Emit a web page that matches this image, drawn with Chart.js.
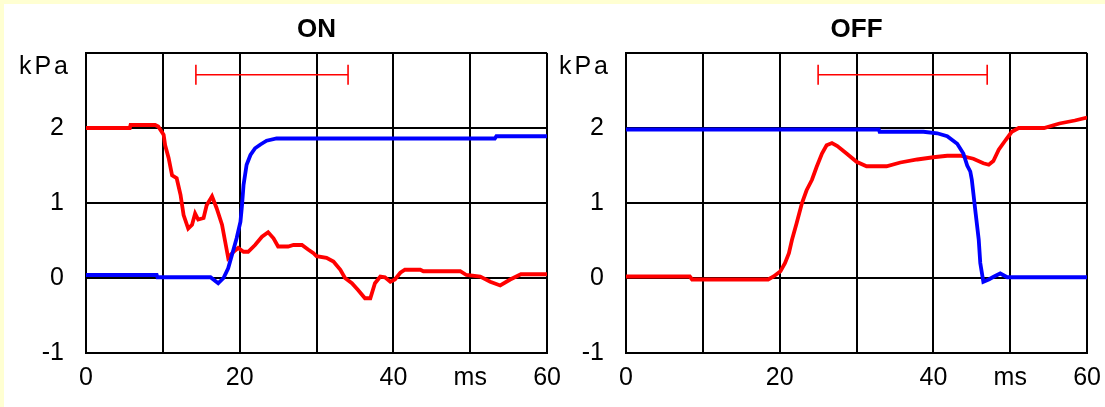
<!DOCTYPE html>
<html>
<head>
<meta charset="utf-8">
<script src="https://cdn.jsdelivr.net/npm/chart.js@4.4.1/dist/chart.umd.min.js"></script>
<style>
  html, body { margin: 0; padding: 0; }
  body { width: 1105px; height: 407px; background: #FFFFD2; position: relative; overflow: hidden; }
  #sheet { position: absolute; left: 4px; top: 4px; right: 0; bottom: 0; background: #FFFFFF; }
  canvas { position: absolute; top: 0; }
  #cOn { left: 0; }
  #cOff { left: 540px; }
</style>
</head>
<body>
<div id="sheet"></div>
<canvas id="cOn" width="571" height="407"></canvas>
<canvas id="cOff" width="571" height="407"></canvas>
<script>
// Time axis (ms) and pressure (kPa) ticks
const timeTicks = [0, 10, 20, 30, 40, 50, 60];
const timeLabels = ['0', '', '20', '', '40', 'ms', '60'];
const kpaTicks = [-1, 0, 1, 2, 3];
const kpaLabels = ['-1', '0', '1', '2', ''];
const unitLabel = 'kPa';

// ON: red trace
const onRedT = [0, 5.7, 5.8, 9.0, 9.4, 10.1, 10.3, 10.75, 11.2, 11.8, 12.3, 12.7, 13.3, 13.8, 14.2, 14.6, 15.3, 15.7, 16.4, 17.0, 17.7, 18.1, 18.5, 19.2, 19.8, 20.5, 21.1, 22.0, 22.9, 23.7, 24.4, 25.0, 26.3, 27.0, 28.1, 28.9, 29.6, 30.0, 31.3, 32.2, 33.1, 33.7, 34.6, 35.4, 36.3, 37.0, 37.6, 38.3, 38.9, 39.6, 40.2, 40.9, 41.5, 43.5, 43.9, 48.7, 49.5, 51.3, 52.6, 53.9, 55.2, 56.6, 60];
const onRedP = [2.0, 2.0, 2.04, 2.04, 2.02, 1.91, 1.77, 1.60, 1.37, 1.33, 1.11, 0.84, 0.66, 0.71, 0.86, 0.78, 0.80, 0.97, 1.09, 0.93, 0.71, 0.49, 0.27, 0.35, 0.40, 0.35, 0.35, 0.44, 0.55, 0.61, 0.53, 0.42, 0.42, 0.44, 0.44, 0.38, 0.33, 0.29, 0.27, 0.22, 0.11, 0.0, -0.07, -0.16, -0.27, -0.27, -0.07, 0.02, 0.01, -0.05, -0.02, 0.07, 0.11, 0.11, 0.09, 0.09, 0.04, 0.02, -0.05, -0.10, -0.02, 0.05, 0.05];

// ON: blue trace
const onBlueT = [0, 9.2, 9.3, 16.2, 17.2, 17.9, 18.5, 19.0, 19.6, 20.1, 20.3, 20.5, 20.9, 21.4, 22.0, 22.7, 23.5, 24.8, 53.2, 53.4, 60];
const onBlueP = [0.04, 0.04, 0.01, 0.01, -0.07, 0.0, 0.13, 0.31, 0.53, 0.75, 0.97, 1.24, 1.51, 1.64, 1.73, 1.78, 1.83, 1.86, 1.86, 1.89, 1.89];

// OFF: red trace
const offRedT = [0, 8.3, 8.6, 18.5, 19.2, 20.1, 20.7, 21.2, 21.6, 22.2, 22.9, 23.5, 24.2, 24.8, 25.5, 26.1, 26.8, 27.5, 28.7, 30.0, 31.3, 33.9, 35.7, 37.9, 40.0, 41.8, 43.5, 45.2, 46.5, 47.2, 47.8, 48.5, 49.4, 50.2, 51.1, 54.4, 56.4, 58.4, 60];
const offRedP = [0.02, 0.02, -0.02, -0.02, 0.02, 0.09, 0.2, 0.33, 0.51, 0.73, 1.0, 1.17, 1.31, 1.48, 1.66, 1.77, 1.80, 1.76, 1.66, 1.55, 1.49, 1.49, 1.54, 1.58, 1.61, 1.63, 1.63, 1.59, 1.53, 1.51, 1.56, 1.71, 1.84, 1.95, 2.0, 2.0, 2.06, 2.1, 2.14];

// OFF: blue trace
const offBlueT = [0, 32.9, 33.0, 38.7, 40.5, 41.8, 43.1, 43.9, 44.4, 44.8, 45.0, 45.5, 45.9, 46.1, 46.5, 47.2, 47.9, 48.7, 49.6, 60];
const offBlueP = [1.98, 1.98, 1.95, 1.95, 1.93, 1.89, 1.79, 1.66, 1.5, 1.42, 1.31, 0.86, 0.51, 0.2, -0.05, -0.02, 0.02, 0.06, 0.01, 0.01];

// Interval bars (start, end in ms) and their level
const onBarT = [14.3, 34.1];
const offBarT = [25.0, 47.0];
const barLevel = 2.71;

const RED = '#FF0000';
const BLUE = '#0000FF';
const FONT = "'Liberation Sans', Arial, sans-serif";

function pts(ts, ps) { return ts.map((t, i) => ({ x: t, y: ps[i] })); }

const unitPlugin = {
  id: 'unitLabel',
  afterDraw(chart) {
    const { ctx, chartArea, scales } = chart;
    ctx.save();
    ctx.font = '25px ' + FONT;
    ctx.fillStyle = '#000';
    ctx.textAlign = 'right';
    ctx.textBaseline = 'alphabetic';
    if ('letterSpacing' in ctx) ctx.letterSpacing = '3px';
    ctx.fillText(unitLabel, chartArea.left - 15, scales.y.getPixelForValue(3) + 21);
    ctx.restore();
  }
};

function makePanel(id, title, red, blue, bar) {
  new Chart(document.getElementById(id), {
    type: 'line',
    data: {
      datasets: [
        { data: bar, borderColor: RED, borderWidth: 1.6, pointStyle: 'line', rotation: 90,
          pointRadius: 10, pointBorderWidth: 1.6, pointBorderColor: RED, tension: 0 },
        { data: blue, borderColor: BLUE, borderWidth: 3.8, pointRadius: 0, tension: 0 },
        { data: red, borderColor: RED, borderWidth: 3.8, pointRadius: 0, tension: 0 }
      ]
    },
    options: {
      responsive: false,
      animation: false,
      events: [],
      layout: { padding: { left: 0, right: 18, top: 0, bottom: 0 } },
      plugins: {
        legend: { display: false },
        tooltip: { enabled: false },
        title: {
          display: true, text: title, fullSize: false, color: '#000',
          font: { family: FONT, size: 26, weight: 'bold', lineHeight: 1 },
          padding: { top: 17, bottom: 10 }
        }
      },
      scales: {
        x: {
          type: 'linear', min: 0, max: 60,
          afterFit(s) { s.height = 54; },
          afterBuildTicks(s) { s.ticks = timeTicks.map(v => ({ value: v })); },
          ticks: {
            autoSkip: false, maxRotation: 0, padding: 10, color: '#000',
            font: { family: FONT, size: 25 },
            callback(v) { const i = timeTicks.indexOf(v); return i < 0 ? '' : timeLabels[i]; }
          },
          grid: { color: '#000', lineWidth: 2, drawTicks: false },
          border: { display: true, color: '#000', width: 2 }
        },
        y: {
          type: 'linear', min: -1, max: 3,
          afterFit(s) { s.width = 86; },
          afterBuildTicks(s) { s.ticks = kpaTicks.map(v => ({ value: v })); },
          ticks: {
            autoSkip: false, padding: 22, color: '#000',
            font: { family: FONT, size: 25 },
            callback(v) { const i = kpaTicks.indexOf(v); return i < 0 ? '' : kpaLabels[i]; }
          },
          grid: { color: '#000', lineWidth: 2, drawTicks: false },
          border: { display: true, color: '#000', width: 2 }
        }
      }
    },
    plugins: [unitPlugin]
  });
}

makePanel('cOn', 'ON', pts(onRedT, onRedP), pts(onBlueT, onBlueP),
  onBarT.map(t => ({ x: t, y: barLevel })));
makePanel('cOff', 'OFF', pts(offRedT, offRedP), pts(offBlueT, offBlueP),
  offBarT.map(t => ({ x: t, y: barLevel })));
</script>
</body>
</html>
